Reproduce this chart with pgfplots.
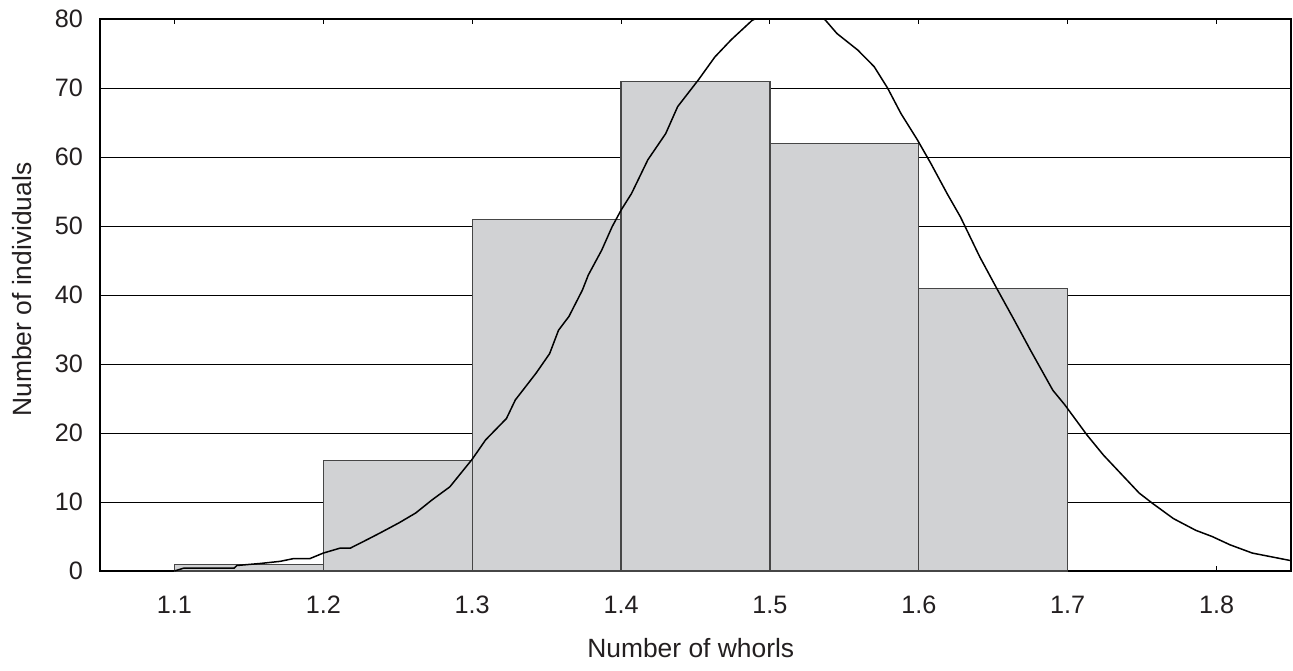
\documentclass[border=0pt]{standalone}
\usepackage{fontspec}
\setmainfont{Liberation Sans}
\usepackage{pgfplots}
\pgfplotsset{compat=1.18}
\definecolor{barfill}{RGB}{209,210,212}
\definecolor{bardraw}{RGB}{70,70,70}
\definecolor{txt}{RGB}{35,31,32}
\begin{document}
\begin{tikzpicture}
\begin{axis}[
  at={(0,0)}, anchor=south west,
  scale only axis,
  width=595.5pt, height=276pt,
  xmin=1.05, xmax=1.85, ymin=0, ymax=80,
  xtick={1.1,1.2,1.3,1.4,1.5,1.6,1.7,1.8},
  xticklabels={1.1,1.2,1.3,1.4,1.5,1.6,1.7,1.8},
  ytick={0,10,20,30,40,50,60,70,80},
  /pgf/number format/assume math mode=true,
  tick align=inside,
  xtick pos=both,
  major tick length=2.5pt,
  ytick style={draw=none},
  xtick style={black, line width=0.5pt},
  ymajorgrids,
  grid style={black, line width=0.5pt},
  axis line style={black, line width=0.7pt},
  ticklabel style={font=\fontsize{12.6}{14}\selectfont, text=txt},
  yticklabel style={xshift=-5pt},
  xticklabel style={yshift=-9pt},
  xlabel={Number of whorls},
  ylabel={Number of individuals},
  xlabel style={font=\fontsize{13.2}{15}\selectfont, text=txt,
    at={(axis description cs:0.496,-0.1576)}, anchor=base},
  ylabel style={font=\fontsize{13.2}{15}\selectfont, text=txt,
    at={(axis description cs:-0.0571,0.51)}, anchor=base, rotate=0},
]
\addplot[ybar interval, fill=barfill, draw=bardraw, line width=0.6pt]
  coordinates {(1.1,1) (1.2,16) (1.3,51) (1.4,71) (1.5,62) (1.6,41) (1.7,0)};
\addplot[black, line width=0.75pt] coordinates {
 (1.100,0.0) (1.106,0.4) (1.140,0.4) (1.142,0.8) (1.158,1.1) (1.171,1.4)
 (1.180,1.8) (1.191,1.8) (1.200,2.6) (1.211,3.3) (1.218,3.3) (1.229,4.5)
 (1.238,5.5) (1.251,7.0) (1.262,8.4) (1.273,10.3) (1.285,12.2) (1.300,16.2)
 (1.309,19.0) (1.323,22.1) (1.329,24.8) (1.343,28.7) (1.352,31.5) (1.358,34.9)
 (1.365,36.9) (1.374,40.7) (1.378,42.9) (1.387,46.5) (1.394,49.9) (1.400,52.3)
 (1.407,54.7) (1.418,59.6) (1.430,63.4) (1.438,67.3) (1.452,71.2) (1.463,74.5)
 (1.474,77.0) (1.488,79.8) (1.500,81.0) (1.512,81.5) (1.525,81.0) (1.537,79.9)
 (1.545,77.9) (1.559,75.5) (1.570,73.1) (1.579,70.0) (1.588,66.3) (1.599,62.5)
 (1.608,59.1) (1.619,54.7) (1.628,51.3) (1.641,45.5) (1.653,40.7) (1.664,36.4)
 (1.675,32.0) (1.690,26.2) (1.698,24.1) (1.713,19.7) (1.724,16.8) (1.748,11.3)
 (1.757,9.8) (1.771,7.6) (1.786,5.9) (1.797,5.0) (1.809,3.8) (1.824,2.6)
 (1.850,1.5)
};
\end{axis}
\pgfresetboundingbox
\path (-50pt,-49.5pt) rectangle (596.5pt,285.5pt);
\end{tikzpicture}
\end{document}
